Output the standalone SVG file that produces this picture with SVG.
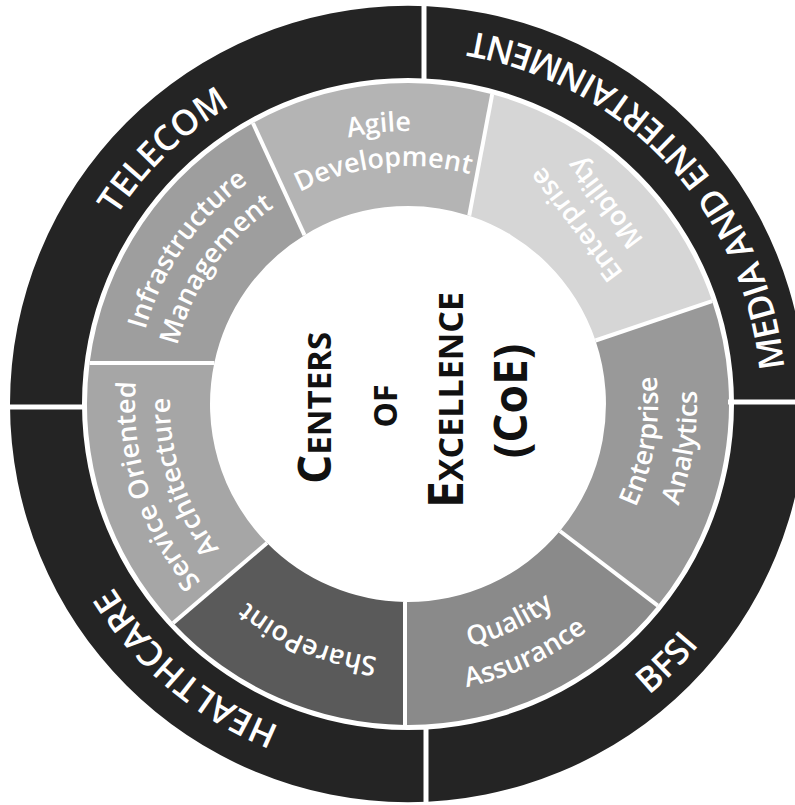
<svg xmlns="http://www.w3.org/2000/svg" width="795" height="805" viewBox="0 0 795 805">
<style>
.ring{fill:#242424;fill-rule:evenodd}
.div{stroke:#fff;stroke-width:5}
.sep{stroke:#fff;stroke-width:4}
.ot{font-family:"Open Sans","Liberation Sans",sans-serif;font-size:35px;font-weight:600;fill:#fff}
.st{font-family:"Open Sans","Liberation Sans",sans-serif;font-size:27px;font-weight:600;fill:#fff}
.ct{font-family:"Open Sans","Liberation Sans",sans-serif;font-weight:700;fill:#111}
</style>
<defs>
<path id="cw347" d="M -347 0 A 347 347 0 0 1 347 0"/>
<path id="ccw378" d="M -378 0 A 378 378 0 0 0 378 0"/>
<path id="cw273" d="M -273 0 A 273 273 0 0 1 273 0"/>
<path id="cw238" d="M -238 0 A 238 238 0 0 1 238 0"/>
<path id="cw255" d="M -255 0 A 255 255 0 0 1 255 0"/>
<path id="ccw250" d="M -250 0 A 250 250 0 0 0 250 0"/>
<path id="ccw289" d="M -289 0 A 289 289 0 0 0 289 0"/>
</defs>
<rect width="795" height="805" fill="#fff"/>

<g id="outer-ring">
<path class="ring" d="M 10 404 A 398 398 0 1 1 806 404 A 398 398 0 1 1 10 404 Z M 82 404 A 326 326 0 1 0 734 404 A 326 326 0 1 0 82 404 Z"/>
</g>

<g id="telecom">
<g transform="translate(408 404) rotate(-44)"><text class="ot"><textPath href="#cw347" startOffset="50%" text-anchor="middle">TELECOM</textPath></text></g>
</g>
<g id="media">
<g transform="translate(408 404) rotate(-133)"><text class="ot"><textPath href="#ccw378" startOffset="50%" text-anchor="middle">MEDIA AND ENTERTAINMENT</textPath></text></g>
</g>
<g id="bfsi">
<g transform="translate(408 404) rotate(-45)"><text class="ot"><textPath href="#ccw378" startOffset="50%" text-anchor="middle">BFSI</textPath></text></g>
</g>
<g id="healthcare">
<g transform="translate(408 404) rotate(220)"><text class="ot"><textPath href="#cw347" startOffset="50%" text-anchor="middle">HEALTHCARE</textPath></text></g>
</g>

<g id="seg-infra">
<path fill="#9e9e9e" d="M 214.3 363 L 89.6 363 A 321 321 0 0 1 252.9 123 L 304.5 235.2 A 198 198 0 0 0 214.3 363 Z"/>
<g transform="translate(408 404) rotate(-55)"><text class="st"><textPath href="#cw273" startOffset="50%" text-anchor="middle">Infrastructure</textPath></text><text class="st"><textPath href="#cw238" startOffset="50%" text-anchor="middle">Management</textPath></text></g>
</g>
<g id="seg-agile">
<path fill="#b4b4b4" d="M 304.5 235.2 L 252.9 123 A 321 321 0 0 1 492.2 94.2 L 469.2 215.7 A 198 198 0 0 0 304.5 235.2 Z"/>
<g transform="translate(408 404) rotate(-6)"><text class="st"><textPath href="#cw273" startOffset="50%" text-anchor="middle">Agile</textPath></text><text class="st"><textPath href="#cw238" startOffset="50%" text-anchor="middle">Development</textPath></text></g>
</g>
<g id="seg-mobility">
<path fill="#d6d6d6" d="M 469.2 215.7 L 492.2 94.2 A 321 321 0 0 1 712.1 301.1 L 595.5 340.5 A 198 198 0 0 0 469.2 215.7 Z"/>
<text class="st" transform="translate(576.9 224.1) rotate(-127)" y="8" text-anchor="middle">Enterprise</text>
<text class="st" transform="translate(605.7 202.4) rotate(-127)" y="8" text-anchor="middle">Mobility</text>
</g>
<g id="seg-analytics">
<path fill="#999" d="M 595.5 340.5 L 712.1 301.1 A 321 321 0 0 1 657.8 605.6 L 559.9 531 A 198 198 0 0 0 595.5 340.5 Z"/>
<g transform="translate(408 404) rotate(-81)"><text class="st"><textPath href="#ccw250" startOffset="50%" text-anchor="middle">Enterprise</textPath></text><text class="st"><textPath href="#ccw289" startOffset="50%" text-anchor="middle">Analytics</textPath></text></g>
</g>
<g id="seg-qa">
<path fill="#8a8a8a" d="M 559.9 531 L 657.8 605.6 A 321 321 0 0 1 405 725 L 405 602 A 198 198 0 0 0 559.9 531 Z"/>
<g transform="translate(408 404) rotate(-25)"><text class="st"><textPath href="#ccw250" startOffset="50%" text-anchor="middle">Quality</textPath></text><text class="st"><textPath href="#ccw289" startOffset="50%" text-anchor="middle">Assurance</textPath></text></g>
</g>
<g id="seg-sharepoint">
<path fill="#5a5a5a" d="M 405 602 L 405 725 A 321 321 0 0 1 173.2 622.9 L 267 543 A 198 198 0 0 0 405 602 Z"/>
<g transform="translate(408 404) rotate(203)"><text class="st"><textPath href="#cw255" startOffset="50%" text-anchor="middle">SharePoint</textPath></text></g>
</g>
<g id="seg-soa">
<path fill="#a6a6a6" d="M 267 543 L 173.2 622.9 A 321 321 0 0 1 89.6 363 L 214.3 363 A 198 198 0 0 0 267 543 Z"/>
<g transform="translate(408 404) rotate(252)"><text class="st"><textPath href="#cw273" startOffset="50%" text-anchor="middle">Service Oriented</textPath></text><text class="st"><textPath href="#cw238" startOffset="50%" text-anchor="middle">Architecture</textPath></text></g>
</g>

<g id="connectors">
<line class="div" x1="424" y1="0" x2="424" y2="82"/>
<line class="div" x1="426" y1="726" x2="426" y2="805"/>
<line class="div" x1="5" y1="407" x2="86" y2="407"/>
<line class="div" x1="728" y1="402" x2="795" y2="402"/>
<line class="sep" x1="304.5" y1="235.2" x2="252.9" y2="123"/>
<line class="sep" x1="469.2" y1="215.7" x2="492.2" y2="94.2"/>
<line class="sep" x1="595.5" y1="340.5" x2="712.1" y2="301.1"/>
<line class="sep" x1="559.9" y1="531" x2="657.8" y2="605.6"/>
<line class="sep" x1="405" y1="602" x2="405" y2="725"/>
<line class="sep" x1="267" y1="543" x2="173.2" y2="622.9"/>
<line class="sep" x1="214.3" y1="363" x2="89.6" y2="363"/>
</g>

<g id="center">
<text class="ct" transform="translate(331 408) rotate(-90)" text-anchor="middle"><tspan font-size="46">C</tspan><tspan font-size="33">ENTERS</tspan></text>
<text class="ct" transform="translate(397 406) rotate(-90)" text-anchor="middle" font-size="32">OF</text>
<text class="ct" transform="translate(463 400) rotate(-90)" text-anchor="middle"><tspan font-size="48">E</tspan><tspan font-size="34">XCELLENCE</tspan></text>
<text class="ct" transform="translate(527 401) rotate(-90)" text-anchor="middle" font-size="46">(CoE)</text>
</g>
</svg>
